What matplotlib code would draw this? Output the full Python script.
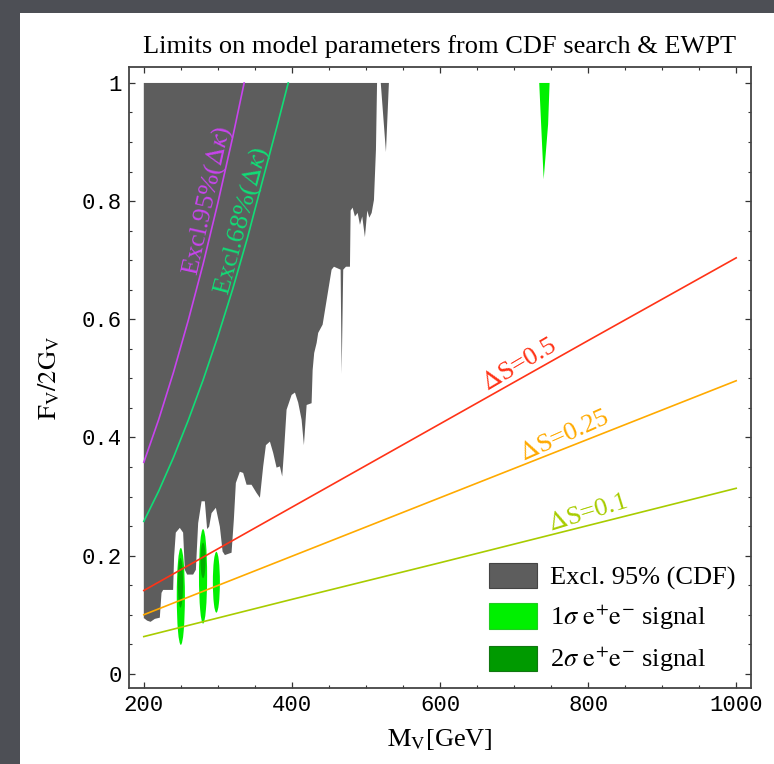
import matplotlib
matplotlib.use("Agg")
import matplotlib.pyplot as plt
from matplotlib.patches import Ellipse, Patch, Rectangle

plt.rcParams['font.family'] = ['Liberation Serif', 'DejaVu Serif']
plt.rcParams['mathtext.fontset'] = 'stix'

# ---------------- data ----------------
# CDF 95% excluded region: boundary (top edge, then jagged lower/right edge)
cdf_x = [200, 515, 513.5, 510.8, 507.7, 504.5, 501.8, 498.6, 495.0, 491.9, 488.8,
         485.1, 482.0, 479.3, 478.4, 473.0, 469.3, 467.2, 465.8, 456.8, 453.6,
         441.5, 435.5, 433.4, 430.1, 428.0, 426.6, 419.9, 416.2, 413.1, 408.5,
         404.1, 399.6, 392.8, 389.2, 386.9, 383.8, 379.3, 374.7, 370.3, 364.9,
         361.2, 356.8, 352.3, 345.5, 338.8, 334.2, 329.7, 324.3, 321.6, 318.5,
         309.5, 306.4, 302.7, 297.3, 291.5, 288.2, 285.5, 282.4, 278.0, 273.4,
         270.3, 266.6, 258.5, 255.4, 253.1, 248.6, 243.2, 240.9, 239.6, 226.1,
         223.9, 221.6, 214.9, 209.1, 204.5, 200.4, 200]
cdf_y = [1.0, 1.0, 0.887, 0.802, 0.780, 0.772, 0.784, 0.739, 0.774, 0.760, 0.780,
         0.774, 0.789, 0.784, 0.689, 0.689, 0.684, 0.508, 0.684, 0.689, 0.684,
         0.591, 0.577, 0.560, 0.543, 0.514, 0.458, 0.455, 0.387, 0.430, 0.459,
         0.476, 0.472, 0.447, 0.374, 0.334, 0.351, 0.349, 0.374, 0.393, 0.387,
         0.351, 0.298, 0.306, 0.320, 0.320, 0.340, 0.342, 0.323, 0.261, 0.205,
         0.201, 0.207, 0.249, 0.281, 0.272, 0.249, 0.245, 0.292, 0.292, 0.255,
         0.176, 0.168, 0.168, 0.176, 0.239, 0.247, 0.239, 0.198, 0.142, 0.142,
         0.137, 0.095, 0.093, 0.088, 0.090, 0.094, 0.094]
cdf_spike_x = [520, 527, 531]
cdf_spike_y = [1.0, 0.883, 1.0]

# 1 sigma e+e- signal regions
sig1_x = [250, 280, 298]
sig1_y = [0.131, 0.165, 0.155]
sig1_w = [11, 11, 9.5]
sig1_h = [0.164, 0.160, 0.103]
sig1_wedge_x = [734, 740, 746, 748]
sig1_wedge_y = [1.0, 0.837, 0.93, 1.0]
# 2 sigma e+e- signal regions
sig2_x = [249.5, 280]
sig2_y = [0.154, 0.192]
sig2_w = [7, 7]
sig2_h = [0.084, 0.060]

# EWPT Delta S lines
ds_x = [200, 400, 600, 800, 1000]
ds05_y = [0.141, 0.282, 0.423, 0.564, 0.704]
ds025_y = [0.100, 0.199, 0.298, 0.397, 0.496]
ds01_y = [0.063, 0.126, 0.188, 0.251, 0.314]

# Delta kappa exclusion curves
k95_x = [200, 220, 240, 260, 280, 300, 320, 335.5]
k95_y = [0.358, 0.430, 0.510, 0.598, 0.693, 0.797, 0.908, 1.0]
k68_x = [200, 220, 240, 260, 280, 300, 320, 340, 360, 380, 395]
k68_y = [0.258, 0.309, 0.366, 0.429, 0.497, 0.571, 0.651, 0.738, 0.833, 0.927, 1.0]

x_ticks = [200, 400, 600, 800, 1000]
y_ticks = [0, 0.2, 0.4, 0.6, 0.8, 1]
y_ticklabels = ['0', '0.2', '0.4', '0.6', '0.8', '1']

# ---------------- figure ----------------
fig = plt.figure(figsize=(7.74, 7.64), dpi=100)
fig.patch.set_facecolor('#4d4f55')
fig.add_artist(Rectangle((20 / 774, 0), 1, (764 - 13) / 764, transform=fig.transFigure,
                         facecolor='white', edgecolor='none', zorder=-10))

ax = fig.add_axes([129 / 774, (764 - 688) / 764, 622 / 774, 621 / 764])
ax.set_facecolor('white')

gray = '#5d5d5d'
light_green = '#00f000'
dark_green = '#009a00'

ax.fill(cdf_x, cdf_y, color=gray, lw=0, zorder=1)
ax.fill(cdf_spike_x, cdf_spike_y, color=gray, lw=0, zorder=1)

ax.fill(sig1_wedge_x, sig1_wedge_y, color=light_green, lw=0, zorder=2)
for x, y, w, h in zip(sig1_x, sig1_y, sig1_w, sig1_h):
    ax.add_patch(Ellipse((x, y), w, h, facecolor=light_green, edgecolor='none', zorder=2))
for x, y, w, h in zip(sig2_x, sig2_y, sig2_w, sig2_h):
    ax.add_patch(Ellipse((x, y), w, h, facecolor=dark_green, edgecolor='none', alpha=0.75, zorder=2.1))

c_red = '#ff3317'
c_orange = '#ffaa00'
c_yg = '#a8cc00'
c_mag = '#c844ee'
c_grn = '#11dd77'

ax.plot(ds_x, ds05_y, color=c_red, lw=1.2, zorder=3)
ax.plot(ds_x, ds025_y, color=c_orange, lw=1.2, zorder=3)
ax.plot(ds_x, ds01_y, color=c_yg, lw=1.2, zorder=3)
ax.plot(k95_x, k95_y, color=c_mag, lw=1.2, zorder=3)
ax.plot(k68_x, k68_y, color=c_grn, lw=1.2, zorder=3)

lfs = 19
ax.text(663, 0.478, r'$\Delta$S=0.5', color=c_red, fontsize=lfs, rotation=30.5,
        rotation_mode='anchor', ha='left', va='baseline', zorder=4)
ax.text(712.6, 0.360, r'$\Delta$S=0.25', color=c_orange, fontsize=lfs, rotation=24,
        rotation_mode='anchor', ha='left', va='baseline', zorder=4)
ax.text(748.6, 0.242, r'$\Delta$S=0.1', color=c_yg, fontsize=lfs, rotation=17,
        rotation_mode='anchor', ha='left', va='baseline', zorder=4)
ax.text(272.0, 0.672, r'Excl.95%($\Delta\kappa$)', color=c_mag, fontsize=lfs, rotation=77.5,
        rotation_mode='anchor', ha='left', va='baseline', zorder=4)
ax.text(314.0, 0.640, r'Excl.68%($\Delta\kappa$)', color=c_grn, fontsize=lfs, rotation=75,
        rotation_mode='anchor', ha='left', va='baseline', zorder=4)

ax.set_xlim(180, 1020)
ax.set_ylim(-0.024, 1.027)
ax.set_xticks(x_ticks)
ax.set_xticks(range(200, 1001, 50), minor=True)
ax.set_yticks(y_ticks)
ax.set_yticklabels(y_ticklabels)
ax.set_yticks([i * 0.05 for i in range(21)], minor=True)
ax.tick_params(which='both', direction='in', top=True, right=True, colors='#333333',
               labelcolor='black')
ax.tick_params(which='major', length=4, width=0.9, labelsize=16, pad=5)
ax.tick_params(which='minor', length=2.5, width=0.8)
for lab in ax.get_xticklabels() + ax.get_yticklabels():
    lab.set_family('Liberation Mono')
for s in ax.spines.values():
    s.set_color('#444444')
    s.set_linewidth(1.3)

ax.set_title('Limits on model parameters from CDF search & EWPT', fontsize=19, pad=10)
ax.set_xlabel(r'$\mathrm{M_V}$[GeV]', fontsize=19, labelpad=8)
ax.set_ylabel(r'$\mathrm{F_V/2G_V}$', fontsize=19, labelpad=14)

handles = [Patch(facecolor=gray, edgecolor='#444444', lw=0.8),
           Patch(facecolor=light_green, edgecolor='#22cc22', lw=0.8),
           Patch(facecolor=dark_green, edgecolor='#117711', lw=0.8)]
labels = ['Excl. 95% (CDF)',
          r'1$\sigma$ $\mathrm{e^{+}e^{-}}$ signal',
          r'2$\sigma$ $\mathrm{e^{+}e^{-}}$ signal']
ax.legend(handles, labels, loc='upper left', bbox_to_anchor=(0.579, 0.202),
          frameon=False, fontsize=19, borderaxespad=0, borderpad=0,
          handlelength=1.82, handleheight=1.12, handletextpad=0.48, labelspacing=0.5)

fig.savefig('out.png', dpi=100, facecolor=fig.get_facecolor())
